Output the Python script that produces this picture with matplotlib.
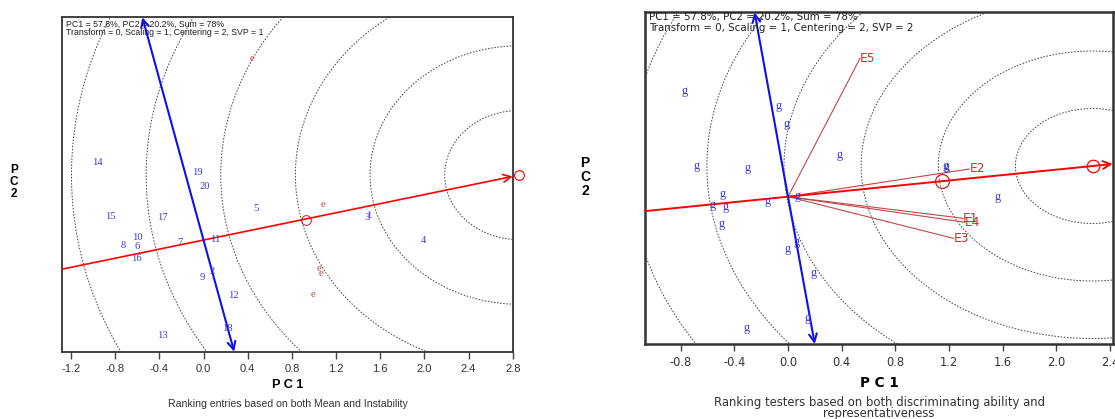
"""GGE biplots: ranking entries (mean vs instability) and ranking testers"""
import matplotlib.pyplot as plt
import numpy as np

plt.rcParams['font.family'] = ['Liberation Sans', 'DejaVu Sans']

# ---- left biplot data (SVP = 1) ----
gen_labels = [str(i) for i in range(1, 21)]
gen_x = [1.50, 0.076, 1.48, 1.988, 0.477, -0.603, -0.211, -0.727, -0.009, -0.603,
         0.109, 0.269, -0.374, -0.965, -0.842, -0.612, -0.371, 0.212, -0.06, 0.013]
gen_y = [0.255, -0.331, 0.235, 0.0, 0.328, -0.070, -0.028, -0.052, -0.394, 0.024,
         0.007, -0.582, -1.001, 0.813, 0.244, -0.195, 0.237, -0.924, 0.704, 0.558]
env_x_left = [0.443, 1.080, 1.047, 1.062, 0.990]
env_y_left = [1.897, 0.373, -0.300, -0.349, -0.568]
ideal_left = (2.86, 0.68)
ring_left = 0.676
xlim_left = (-1.279, 2.80)
ylim_left = (-1.168, 2.33)
xticks_left = [-1.2, -0.8, -0.4, 0.0, 0.4, 0.8, 1.2, 1.6, 2.0, 2.4, 2.8]

# ---- right biplot data (SVP = 2) ----
g_x = [-0.773, -0.067, -0.010, 0.382, -0.680, -0.303, -0.490, -0.564, -0.464, -0.156,
       0.069, -0.494, 0.062, -0.002, 0.189, 0.149, -0.308, 1.177, 1.185, 1.562]
g_y = [1.057, 0.907, 0.727, 0.417, 0.304, 0.290, 0.024, -0.083, -0.103, -0.040,
       0.007, -0.273, -0.450, -0.526, -0.766, -1.216, -1.316, 0.307, 0.300, 0.0]
env_names = ['E1', 'E2', 'E3', 'E4', 'E5']
env_x = [1.306, 1.351, 1.232, 1.319, 0.537]
env_y = [-0.216, 0.277, -0.416, -0.256, 1.384]
ideal_right = (2.27, 0.307)
ring_right = 0.575
xlim_right = (-1.066, 2.42)
ylim_right = (-1.473, 1.844)
xticks_right = [-0.8, -0.4, 0.0, 0.4, 0.8, 1.2, 1.6, 2.0, 2.4]

W, H = 1115, 419
fig = plt.figure(figsize=(W / 100, H / 100), dpi=100)


def px(x, y):
    return x / W, 1 - y / H


def setup(ax, xlim, ylim, xticks, tick_fs, frame_lw, fam):
    ax.set_xlim(xlim)
    ax.set_ylim(ylim)
    ax.set_xticks(xticks)
    ax.set_xticklabels([f'{t:.1f}' for t in xticks], fontsize=tick_fs, color='#333333', family=fam)
    ax.set_yticks([])
    ax.tick_params(axis='x', direction='out', length=5, width=1, color='#444444', pad=4)
    for s in ax.spines.values():
        s.set_linewidth(frame_lw)
        s.set_color('#333333')


def rings(ax, centre, unit, n=7):
    t = np.linspace(0, 2 * np.pi, 400)
    for k in range(1, n + 1):
        ax.plot(centre[0] + k * unit * np.cos(t), centre[1] + k * unit * np.sin(t),
                ls=(0, (1.6, 1.6)), lw=0.7, color='#444444')


def aec(ax, ideal, xlim, ylim, lw_red):
    slope = ideal[1] / ideal[0]
    x0, x1 = xlim
    ax.annotate('', xy=(x1, slope * x1), xytext=(x0, slope * x0),
                arrowprops=dict(arrowstyle='->', color='red', lw=lw_red,
                                shrinkA=0, shrinkB=0, mutation_scale=14))
    # ordinate: perpendicular through the origin
    y0, y1 = ylim
    ax.annotate('', xy=(-slope * y1, y1), xytext=(-slope * y0, y0),
                arrowprops=dict(arrowstyle='<->', color='#1010ee', lw=1.5,
                                shrinkA=0, shrinkB=0, mutation_scale=14))


# ---------------- left panel ----------------
ax1 = fig.add_axes([62.3 / W, 1 - 351.7 / H, 450.4 / W, 334.4 / H])
setup(ax1, xlim_left, ylim_left, xticks_left, 8, 1.3, 'Liberation Sans')
rings(ax1, ideal_left, ring_left)
aec(ax1, ideal_left, xlim_left, ylim_left, 1.2)
ax1.plot([ideal_left[0]], [ideal_left[1]], 'o', mfc='none', mec='red', ms=7, mew=0.8, clip_on=False)
ax1.plot([np.mean(env_x_left)], [np.mean(env_y_left)], 'o', mfc='none', mec='#cc3333', ms=7, mew=0.8)
for lab, x, y in zip(gen_labels, gen_x, gen_y):
    ax1.text(x, y, lab, ha='center', va='center', fontsize=7.6, color='#3a3ad8',
             family='Liberation Serif')
for x, y in zip(env_x_left, env_y_left):
    ax1.text(x, y, 'e', ha='center', va='center', fontsize=7.8, color='#cc4040',
             family='Liberation Serif')

fig.text(*px(65.7, 24), 'PC1 = 57.8%, PC2 = 20.2%, Sum = 78%', fontsize=6.3, va='center', color='#222222')
fig.text(*px(65.7, 32.7), 'Transform = 0, Scaling = 1, Centering = 2, SVP = 1', fontsize=6.3, va='center', color='#222222')
fig.text(*px(287.5, 385), 'P C 1', fontsize=9.2, fontweight='bold', ha='center', va='center')
fig.text(*px(287.5, 404), 'Ranking entries based on both Mean and Instability', fontsize=7.6,
         ha='center', va='center', color='#333333')
fig.text(*px(14, 182), 'P\nC\n2', fontsize=8.5, fontweight='bold', ha='center', va='center', linespacing=1.0)

# ---------------- right panel ----------------
ax2 = fig.add_axes([645 / W, 1 - 344 / H, 467.7 / W, 331.7 / H])
setup(ax2, xlim_right, ylim_right, xticks_right, 8.3, 1.8, 'DejaVu Sans')
rings(ax2, ideal_right, ring_right)
for name, x, y in zip(env_names, env_x, env_y):
    ax2.plot([0, x], [0, y], color='#c04848', lw=0.8)
    ax2.text(x, y, name, ha='left', va='center', fontsize=8.8, color='#cc3030', family='DejaVu Sans')
aec(ax2, ideal_right, xlim_right, ylim_right, 1.4)
ax2.plot([ideal_right[0]], [ideal_right[1]], 'o', mfc='none', mec='red', ms=9, mew=0.9)
ax2.plot([np.mean(env_x)], [np.mean(env_y)], 'o', mfc='none', mec='#cc2020', ms=10, mew=0.9)
for x, y in zip(g_x, g_y):
    ax2.text(x, y, 'g', ha='center', va='center', fontsize=8.8, color='#3a3ad8',
             family='Liberation Serif')

fig.text(*px(649, 17), 'PC1 = 57.8%, PC2 = 20.2%, Sum = 78%', fontsize=7.4, va='center',
         color='#222222', family='DejaVu Sans')
fig.text(*px(649, 28), 'Transform = 0, Scaling = 1, Centering = 2, SVP = 2', fontsize=7.4, va='center',
         color='#222222', family='DejaVu Sans')
fig.text(*px(879, 383), 'P C 1', fontsize=9.8, fontweight='bold', ha='center', va='center',
         family='DejaVu Sans')
fig.text(*px(879, 408.3), 'Ranking testers based on both discriminating ability and\nrepresentativeness',
         fontsize=8.4, ha='center', va='center', color='#333333', family='DejaVu Sans',
         linespacing=0.8)
fig.text(*px(585, 177), 'P\nC\n2', fontsize=10, fontweight='bold', ha='center', va='center', linespacing=1.0)

fig.savefig('out.png', dpi=100)
